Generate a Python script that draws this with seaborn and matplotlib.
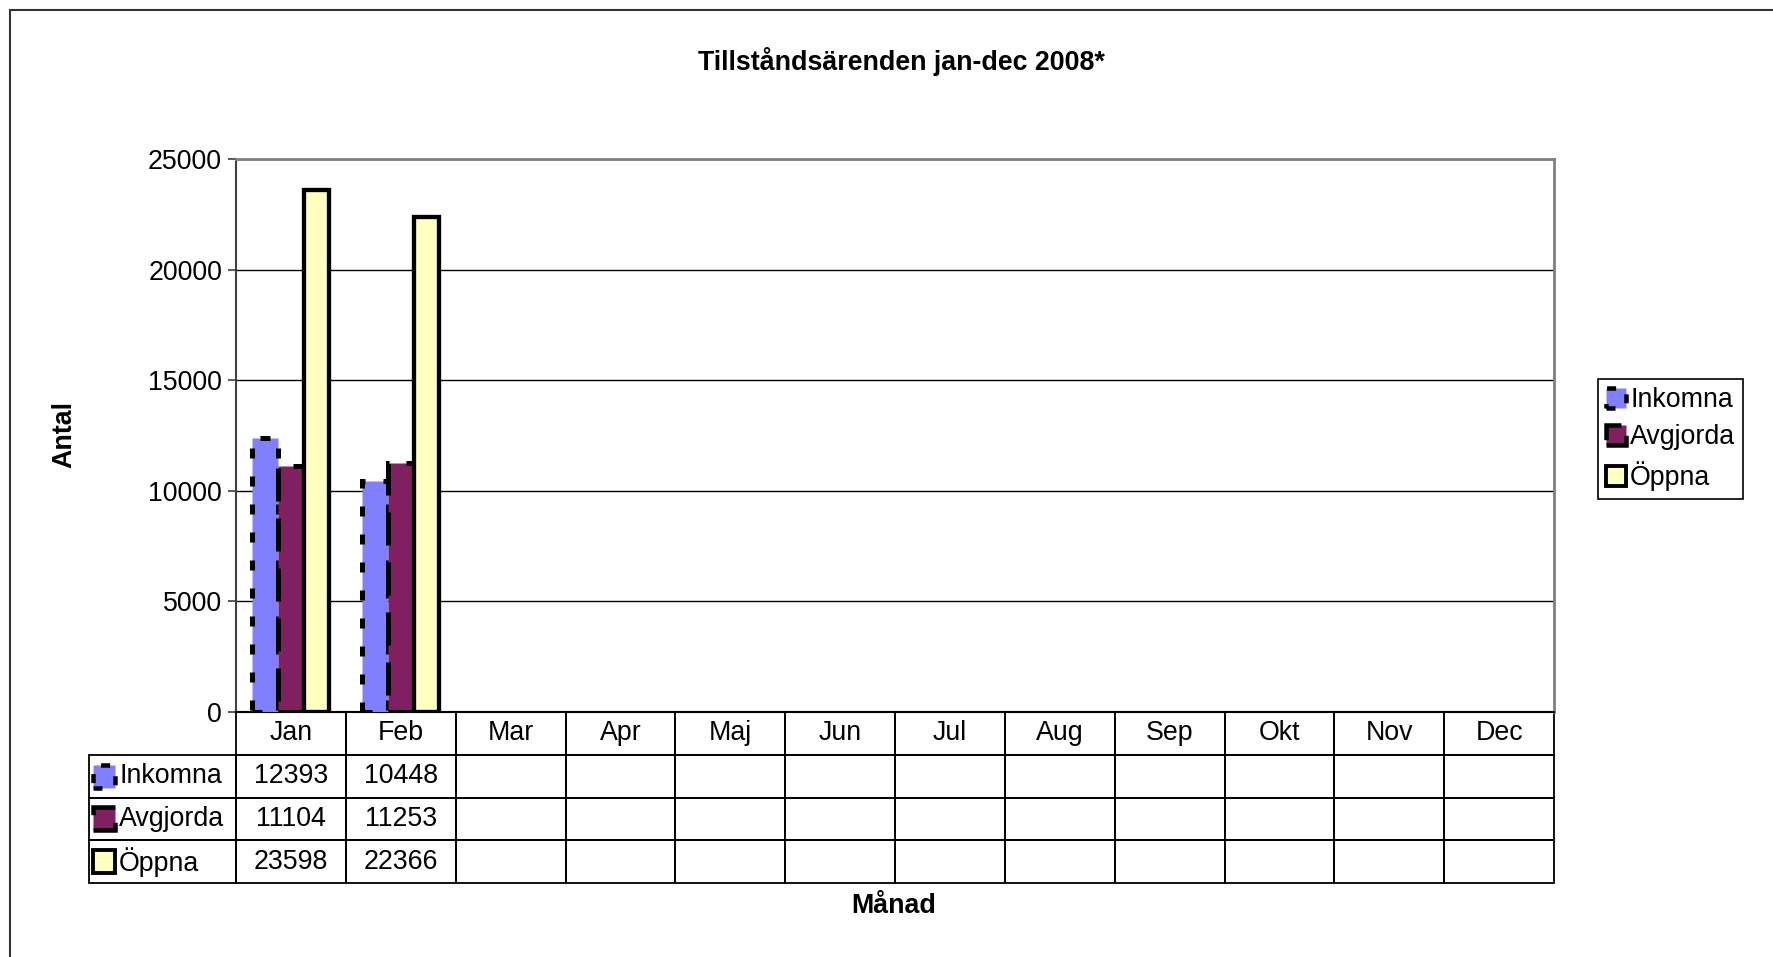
import matplotlib
matplotlib.use("Agg")
import matplotlib.pyplot as plt
from matplotlib.patches import Rectangle, Patch
import seaborn as sns
import pandas as pd

# Monthly permit cases
months = ["Jan", "Feb", "Mar", "Apr", "Maj", "Jun", "Jul", "Aug", "Sep", "Okt", "Nov", "Dec"]
series = ["Inkomna", "Avgjorda", "Öppna"]
reported_months = ["Jan", "Feb"]
inkomna = [12393, 10448]
avgjorda = [11104, 11253]
oppna = [23598, 22366]
y_ticks = [0, 5000, 10000, 15000, 20000, 25000]

colors = {"Inkomna": "#8080FF", "Avgjorda": "#802060", "Öppna": "#FFFFC0"}
# bar edge styles (linewidth in points, dash pattern in linewidth units)
edge_styles = {
    "Inkomna": dict(lw=3.6, ls=(0, (2.0, 3.6))),
    "Avgjorda": dict(lw=3.6, ls=(0, (6.6, 3.4))),
    "Öppna": dict(lw=3.1, ls="solid"),
}

values = {"Inkomna": inkomna, "Avgjorda": avgjorda, "Öppna": oppna}
df = pd.DataFrame(
    [(m, s, values[s][i]) for s in series for i, m in enumerate(reported_months)],
    columns=["Månad", "Serie", "Antal"],
)

sns.set_style("white")
plt.rcParams["font.family"] = ["Liberation Sans", "DejaVu Sans"]
FS = 19.3

W, H = 1773, 957
fig = plt.figure(figsize=(W / 100, H / 100), dpi=100)
ax_l, ax_r, ax_t, ax_b = 236, 1554, 159, 712
ax = fig.add_axes([ax_l / W, 1 - ax_b / H, (ax_r - ax_l) / W, (ax_b - ax_t) / H])

sns.barplot(
    data=df, x="Månad", y="Antal", hue="Serie", order=months, hue_order=series,
    palette=colors, saturation=1, width=0.70, gap=0, errorbar=None,
    edgecolor="black", legend=False, ax=ax, zorder=3,
)

for container, name in zip(ax.containers, series):
    st = edge_styles[name]
    for bar in container:
        bar.set_linewidth(st["lw"])
        bar.set_linestyle(st["ls"])
        bar.set_edgecolor("black")

ax.set_ylim(0, 25000)
ax.set_xlim(-0.5, len(months) - 0.5)
ax.set_yticks(y_ticks)
ax.set_yticklabels([str(t) for t in y_ticks], fontsize=FS, color="black")
ax.tick_params(axis="y", direction="out", length=6, width=1.2, color="#404040",
               left=True, pad=4)
ax.tick_params(axis="x", length=0, labelbottom=False)
ax.set_xlabel("")
ax.set_ylabel("")
ax.yaxis.grid(True, color="black", lw=1.0, zorder=0)
ax.set_axisbelow(True)
for side in ("top", "right"):
    ax.spines[side].set_color("#808080")
    ax.spines[side].set_linewidth(2.0)
ax.spines["left"].set_color("#404040")
ax.spines["left"].set_linewidth(1.5)
ax.spines["bottom"].set_color("black")
ax.spines["bottom"].set_linewidth(1.5)

# data table under the plot
tbl_left, tbl_bottom = 89, 883
pw, ph = ax_r - ax_l, ax_b - ax_t
x0 = (tbl_left - ax_l) / pw
y0 = (ax_b - tbl_bottom) / ph
label_w = ax_l - tbl_left
col_w = pw / len(months)

def fmt(arr, n):
    return [str(v) for v in arr] + [""] * (n - len(arr))

cell_text = [[""] + fmt(values[s], len(months)) for s in series]
tbl = ax.table(
    cellText=cell_text, colLabels=[""] + months,
    colWidths=[label_w / pw] + [col_w / pw] * len(months),
    cellLoc="center", bbox=[x0, y0, 1 - x0, -y0],
)
tbl.auto_set_font_size(False)
tbl.set_fontsize(FS)
for (r, c), cell in tbl.get_celld().items():
    cell.set_edgecolor("black")
    cell.set_linewidth(1.3)
    cell.set_facecolor("none")
    cell.get_text().set_color("black")
    if r == 0 and c == 0:
        cell.visible_edges = ""

row_h = -y0 / 4
for i, s in enumerate(series):
    yc = -row_h * (i + 1.5)
    sw_x = (93 - ax_l) / pw
    sw_w = 22 / pw
    sw_h = 23 / ph
    st = edge_styles[s]
    ax.add_patch(Rectangle((sw_x, yc - sw_h / 2), sw_w, sw_h, transform=ax.transAxes,
                           facecolor=colors[s], edgecolor="black", lw=st["lw"] * 0.9,
                           ls=st["ls"], clip_on=False, zorder=5))
    ax.text((119 - ax_l) / pw, yc, s, transform=ax.transAxes, ha="left", va="center",
            fontsize=FS, color="black", clip_on=False)

# legend
handles = [Patch(facecolor=colors[s], edgecolor="black", lw=edge_styles[s]["lw"] * 0.9,
                 ls=edge_styles[s]["ls"], label=s) for s in series]
leg = fig.legend(handles=handles, loc="upper left",
                 bbox_to_anchor=(1598 / W, 1 - 379 / H), fontsize=FS,
                 frameon=True, fancybox=False, framealpha=1, edgecolor="black",
                 handlelength=0.75, handleheight=0.75, handletextpad=0.15,
                 labelspacing=0.42, borderpad=0.3, borderaxespad=0)
leg.get_frame().set_linewidth(1.2)
for t in leg.get_texts():
    t.set_color("black")

fig.text(901 / W, 1 - 62 / H, "Tillståndsärenden jan-dec 2008*", ha="center",
         va="center", fontsize=FS, fontweight="bold", color="black")
fig.text(894 / W, 1 - 906 / H, "Månad", ha="center", va="center", fontsize=FS,
         fontweight="bold", color="black")
fig.text(64 / W, 1 - 435 / H, "Antal", ha="center", va="center", rotation=90,
         fontsize=FS, fontweight="bold", color="black")

# outer chart frame
fig.add_artist(Rectangle((10 / W, -0.1), 1.2, 1 - 10 / H + 0.1, transform=fig.transFigure,
                         fill=False, edgecolor="#333333", lw=1.5))

fig.savefig("out.png", dpi=100)
